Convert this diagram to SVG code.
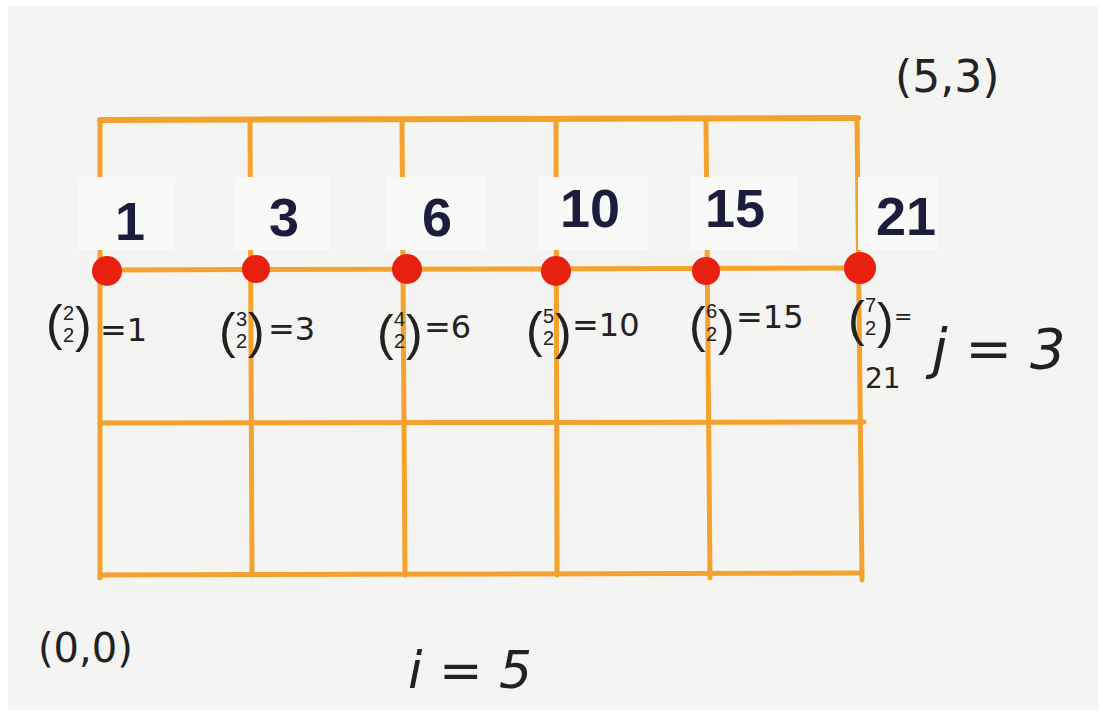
<svg xmlns="http://www.w3.org/2000/svg" width="1103" height="714" viewBox="0 0 1103 714">
<style>
.g{stroke:#f4a12e;stroke-width:5;stroke-linecap:round;fill:none}
.dot{fill:#e8200f}
.box{fill:#f9f9f8}
.big{font-family:"Liberation Sans",Arial,sans-serif;font-weight:bold;font-size:54px;fill:#1c1c3c;text-anchor:middle}
.hw{font-family:"DejaVu Sans",sans-serif;fill:#222;font-size:32px}
.p{font-family:"Liberation Sans",sans-serif;font-size:50px;font-weight:normal}
.s{font-family:"Liberation Sans",sans-serif;font-size:20px}
</style>
<rect x="0" y="0" width="1103" height="714" fill="#ffffff"/>
<rect x="8" y="6" width="1090" height="704" fill="#f4f4f2"/>
<g id="grid">
<line class="g" x1="100" y1="120" x2="858" y2="118" style="stroke-width:6"/>
<line class="g" x1="100" y1="270" x2="858" y2="268"/>
<line class="g" x1="100" y1="423" x2="864" y2="422"/>
<line class="g" x1="100" y1="575" x2="862" y2="573"/>
<line class="g" x1="100" y1="120" x2="100" y2="578"/>
<line class="g" x1="250" y1="120" x2="252" y2="575"/>
<line class="g" x1="402" y1="120" x2="405" y2="575"/>
<line class="g" x1="556" y1="120" x2="557" y2="575"/>
<line class="g" x1="706" y1="120" x2="710" y2="578"/>
<line class="g" x1="857" y1="118" x2="862" y2="580"/>
</g>
<g id="labels">
<rect class="box" x="77" y="177" width="98" height="73"/>
<rect class="box" x="235" y="177" width="95" height="73"/>
<rect class="box" x="386" y="177" width="100" height="73"/>
<rect class="box" x="538" y="177" width="110" height="73"/>
<rect class="box" x="690" y="177" width="108" height="73"/>
<rect class="box" x="858" y="177" width="80" height="73"/>
<text class="big" x="130" y="240">1</text>
<text class="big" x="284" y="236">3</text>
<text class="big" x="437" y="236">6</text>
<text class="big" x="590" y="227">10</text>
<text class="big" x="735" y="227">15</text>
<text class="big" x="906" y="235">21</text>
</g>
<g id="dots">
<circle class="dot" cx="107" cy="271" r="15"/>
<circle class="dot" cx="256" cy="269" r="14"/>
<circle class="dot" cx="407" cy="269" r="15"/>
<circle class="dot" cx="556" cy="271" r="15"/>
<circle class="dot" cx="706" cy="271" r="14"/>
<circle class="dot" cx="860" cy="268" r="16"/>
</g>
<g id="binom1">
<text class="hw"><tspan class="p" x="46" y="340">(</tspan><tspan class="s" x="63" y="320">2</tspan><tspan class="s" x="63" y="342">2</tspan><tspan class="p" x="75" y="342">)</tspan><tspan x="100" y="341">=1</tspan></text>
</g>
<g id="binom2">
<text class="hw"><tspan class="p" x="219" y="348">(</tspan><tspan class="s" x="236" y="326">3</tspan><tspan class="s" x="236" y="348">2</tspan><tspan class="p" x="248" y="348">)</tspan><tspan x="268" y="340">=3</tspan></text>
</g>
<g id="binom3">
<text class="hw"><tspan class="p" x="377" y="350">(</tspan><tspan class="s" x="394" y="326">4</tspan><tspan class="s" x="394" y="348">2</tspan><tspan class="p" x="406" y="350">)</tspan><tspan x="424" y="338">=6</tspan></text>
</g>
<g id="binom4">
<text class="hw"><tspan class="p" x="526" y="347">(</tspan><tspan class="s" x="543" y="323">5</tspan><tspan class="s" x="543" y="345">2</tspan><tspan class="p" x="555" y="349">)</tspan><tspan x="572" y="336">=10</tspan></text>
</g>
<g id="binom5">
<text class="hw"><tspan class="p" x="689" y="342">(</tspan><tspan class="s" x="706" y="318">6</tspan><tspan class="s" x="706" y="341">2</tspan><tspan class="p" x="718" y="345">)</tspan><tspan x="736" y="328">=15</tspan></text>
</g>
<g id="binom6">
<text class="hw"><tspan class="p" x="848" y="336">(</tspan><tspan class="s" x="865" y="312">7</tspan><tspan class="s" x="865" y="335">2</tspan><tspan class="p" x="877" y="338">)</tspan><tspan x="894" y="324" style="font-size:22px">=</tspan><tspan x="865" y="388" style="font-size:28px">21</tspan></text>
</g>
<g id="axes">
<text class="hw" x="932" y="368" style="font-size:56px;font-style:italic">j = 3</text>
<text class="hw" x="408" y="688" style="font-size:52px;font-style:italic">i = 5</text>
<text class="hw" x="895" y="92" style="font-size:44px">(5,3)</text>
<text class="hw" x="38" y="662" style="font-size:40px">(0,0)</text>
</g>
</svg>
